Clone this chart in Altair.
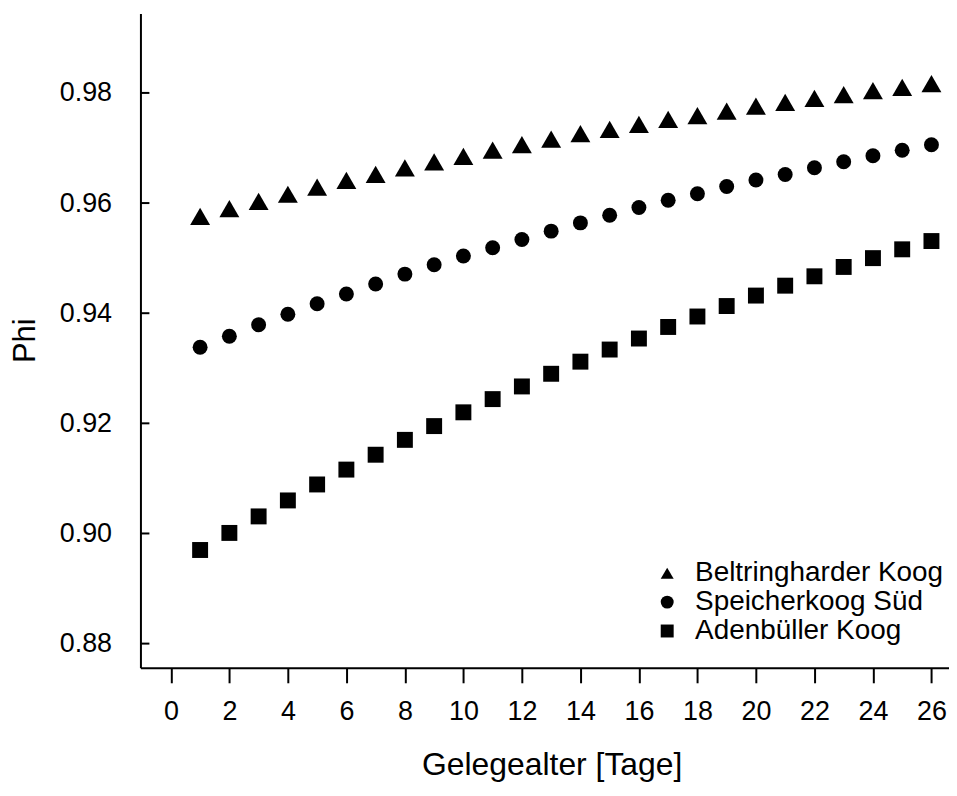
import altair as alt
import pandas as pd

days = list(range(1, 27))
beltringharder = [0.9576, 0.9590, 0.9603, 0.9616, 0.9629, 0.9641, 0.9652, 0.9664, 0.9675, 0.9685,
                  0.9696, 0.9706, 0.9716, 0.9726, 0.9734, 0.9743, 0.9752, 0.9759, 0.9767, 0.9776,
                  0.9783, 0.9790, 0.9797, 0.9804, 0.9810, 0.9817]
speicherkoog = [0.9338, 0.9358, 0.9379, 0.9398, 0.9417, 0.9435, 0.9453, 0.9471, 0.9488, 0.9504,
                0.9519, 0.9534, 0.9549, 0.9564, 0.9578, 0.9592, 0.9605, 0.9617, 0.9630, 0.9642,
                0.9652, 0.9664, 0.9675, 0.9686, 0.9696, 0.9706]
adenbueller = [0.8970, 0.9001, 0.9031, 0.9060, 0.9089, 0.9116, 0.9143, 0.9170, 0.9195, 0.9220,
               0.9244, 0.9267, 0.9290, 0.9312, 0.9334, 0.9354, 0.9375, 0.9394, 0.9413, 0.9432,
               0.9450, 0.9467, 0.9484, 0.9500, 0.9516, 0.9531]
series_names = ["Beltringharder Koog", "Speicherkoog Süd", "Adenbüller Koog"]
series_shapes = ["triangle-up", "circle", "square"]
series_sizes = [400, 225, 256]
x_ticks = list(range(0, 27, 2))
y_ticks = [0.88, 0.90, 0.92, 0.94, 0.96, 0.98]

rows = []
for name, vals in zip(series_names, [beltringharder, speicherkoog, adenbueller]):
    for d, v in zip(days, vals):
        rows.append({"Tag": d, "Phi": v, "Gebiet": name})
df = pd.DataFrame(rows)
ticks_df = pd.DataFrame({"t": y_ticks})

FONT = "Liberation Sans"
xscale = alt.Scale(domain=[-1.04, 26.6], nice=False, zero=False)
yscale = alt.Scale(domain=[0.8756, 0.9944], nice=False, zero=False)

base = alt.Chart(df).encode(
    x=alt.X("Tag:Q", scale=xscale,
            axis=alt.Axis(values=x_ticks, title="Gelegealter [Tage]", grid=False,
                          domainColor="black", domainWidth=2, tickColor="black", tickWidth=2,
                          tickSize=15, labelPadding=16, labelFontSize=27, labelFont=FONT,
                          labelColor="black", labelFlush=False, titleFont=FONT, titleFontSize=32,
                          titleFontWeight="normal", titleColor="black", titleX=413, titleY=97,
                          titleBaseline="middle", titleAnchor="middle", titleAlign="center")),
    y=alt.Y("Phi:Q", scale=yscale,
            axis=alt.Axis(values=y_ticks, format=".2f", title="Phi", grid=False,
                          domainColor="black", domainWidth=2, ticks=False, tickSize=0,
                          labelPadding=29, labelFontSize=27, labelFont=FONT, labelColor="black",
                          labelFlush=False, titleFont=FONT, titleFontSize=31,
                          titleFontWeight="normal", titleColor="black", titleX=-106, titleY=328,
                          titleBaseline="alphabetic", titleAlign="center", titleAngle=270)),
    shape=alt.Shape("Gebiet:N",
                    scale=alt.Scale(domain=series_names, range=series_shapes),
                    legend=alt.Legend(title=None, orient="none", legendX=515, legendY=548,
                                      symbolSize=169, symbolFillColor="black",
                                      symbolStrokeColor="black", symbolStrokeWidth=0,
                                      symbolOpacity=1, labelFontSize=28, labelFont=FONT,
                                      labelColor="black", labelOffset=14, labelLimit=0,
                                      rowPadding=1, padding=0)),
)

layers = []
for name, size in zip(series_names, series_sizes):
    layers.append(
        base.transform_filter(alt.datum.Gebiet == name)
        .mark_point(filled=True, opacity=1, color="black", size=size)
    )

inner_ticks = alt.Chart(ticks_df).mark_rule(color="black", strokeWidth=2).encode(
    x=alt.value(0), x2=alt.value(9),
    y=alt.Y("t:Q", scale=yscale),
)

chart = alt.layer(*layers, inner_ticks).properties(
    width=812, height=657,
    autosize=alt.AutoSizeParams(type="none"),
    padding={"left": 133, "top": 4, "right": 0, "bottom": 115},
    background="white",
).configure_view(stroke=None)

chart.save("out.html", embed_options={"renderer": "svg", "actions": False})
